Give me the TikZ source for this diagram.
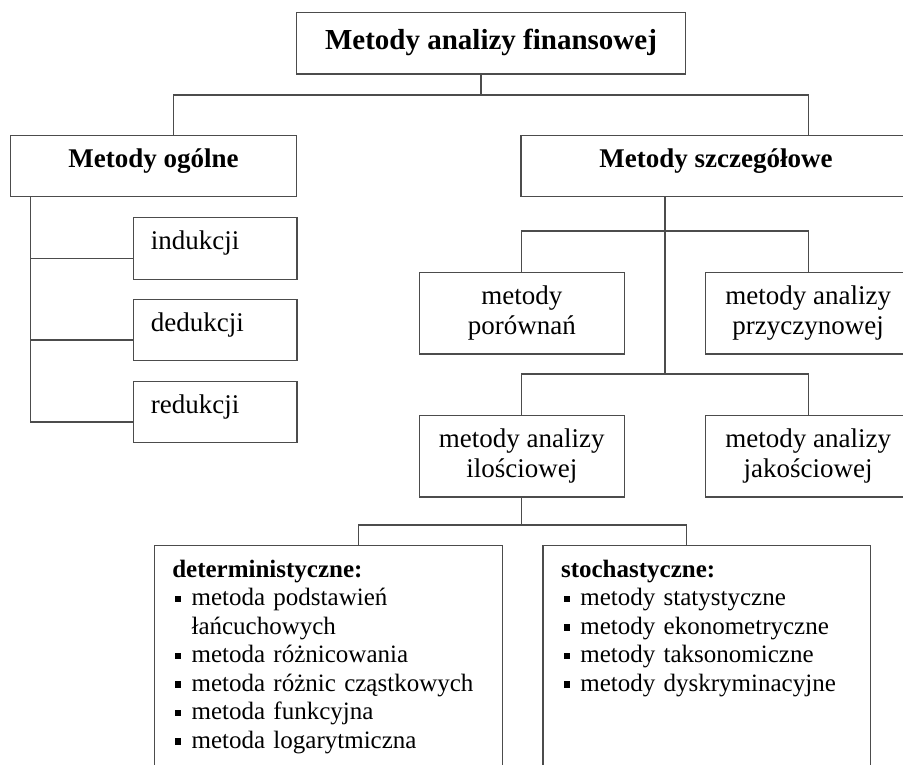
\documentclass[tikz,border=0pt]{standalone}
\usepackage{fontspec}
\setmainfont{Liberation Serif}
\newcommand{\pkt}{\hspace*{2.5pt}\makebox[16.8pt][l]{\rule[3.8pt]{6.5pt}{6.5pt}}}
\begin{document}
\begin{tikzpicture}[x=1pt,y=-1pt,
  rama/.style={draw=black!70,line width=1.3pt,inner sep=0pt},
  linia/.style={draw=black!70,line width=1.3pt},
  naglowek/.style={rama,font=\fontsize{27}{30}\selectfont\bfseries,minimum height=61pt,text height=32pt,text depth=29pt},
  maly/.style={rama,font=\fontsize{27}{30}\selectfont,text width=128.3pt,inner xsep=17.7pt,align=left,text height=32pt,text depth=29.5pt},
  sredni/.style={rama,font=\fontsize{27}{30}\selectfont,minimum width=205pt,minimum height=81.7pt,align=center},
  lista/.style={rama,font=\fontsize{25}{28.5}\selectfont,text width=312pt,inner xsep=18pt,align=left,text height=31.7pt,text depth=223.3pt,anchor=north west}]
\useasboundingbox (0,0) rectangle (903,765);
\clip (0,0) rectangle (903,765);
% gora
\node[rama,font=\fontsize{29}{32}\selectfont\bfseries,minimum width=388.8pt,text height=37.5pt,text depth=24.2pt] (tytul) at (491,43.2) {Metody analizy finansowej};
\node[naglowek,minimum width=286.3pt] (ogolne) at (153.5,166.2) {Metody ogólne};
\node[naglowek,minimum width=390pt] (szczeg) at (716,166.2) {Metody szczegółowe};
\coordinate (w1) at (481,95);
\draw[linia] ([xshift=-10pt]tytul.south) -- (w1);
\draw[linia] ([xshift=19.8pt]ogolne.north) |- (w1) -| ([xshift=92.3pt]szczeg.north);
% metody ogolne
\foreach \n/\t/\y in {ind/indukcji/248.5,ded/dedukcji/329.9,red/redukcji/411.9}{\node[maly] (\n) at (215,\y) {\t};
\draw[linia] ([yshift=-10pt]\n.west) -| ([xshift=-122.8pt]ogolne.south);}
% metody szczegolowe
\node[sredni] (porown) at (521.8,313.2) {metody\\porównań};
\node[sredni] (przycz) at (808.2,313.2) {metody analizy\\przyczynowej};
\node[sredni] (ilosc) at (521.8,456) {metody analizy\\ilościowej};
\node[sredni] (jakosc) at (808.2,456) {metody analizy\\jakościowej};
\coordinate (w2) at (665,231);
\coordinate (w3) at (665,374);
\draw[linia] ([xshift=-51pt]szczeg.south) -- (w3);
\draw[linia] (porown.north) |- (w2) -| (przycz.north);
\draw[linia] (ilosc.north) |- (w3) -| (jakosc.north);
% dol
\node[lista] (determ) at (153.6,545) {\textbf{deterministyczne:}\\
\pkt metoda podstawień\\\hspace*{19.3pt}łańcuchowych\\
\pkt metoda różnicowania\\\pkt metoda różnic cząstkowych\\
\pkt metoda funkcyjna\\\pkt metoda logarytmiczna};
\node[lista,text width=291.6pt] (stoch) at (542.4,545) {\textbf{stochastyczne:}\\
\pkt metody statystyczne\\\pkt metody ekonometryczne\\
\pkt metody taksonomiczne\\\pkt metody dyskryminacyjne};
\coordinate (w4) at ([yshift=-27.6pt]ilosc.south);
\draw[linia] (ilosc.south) -- (w4);
\draw[linia] ([xshift=30.4pt]determ.north) |- (w4) -| ([xshift=-20.2pt]stoch.north);
\end{tikzpicture}
\end{document}
